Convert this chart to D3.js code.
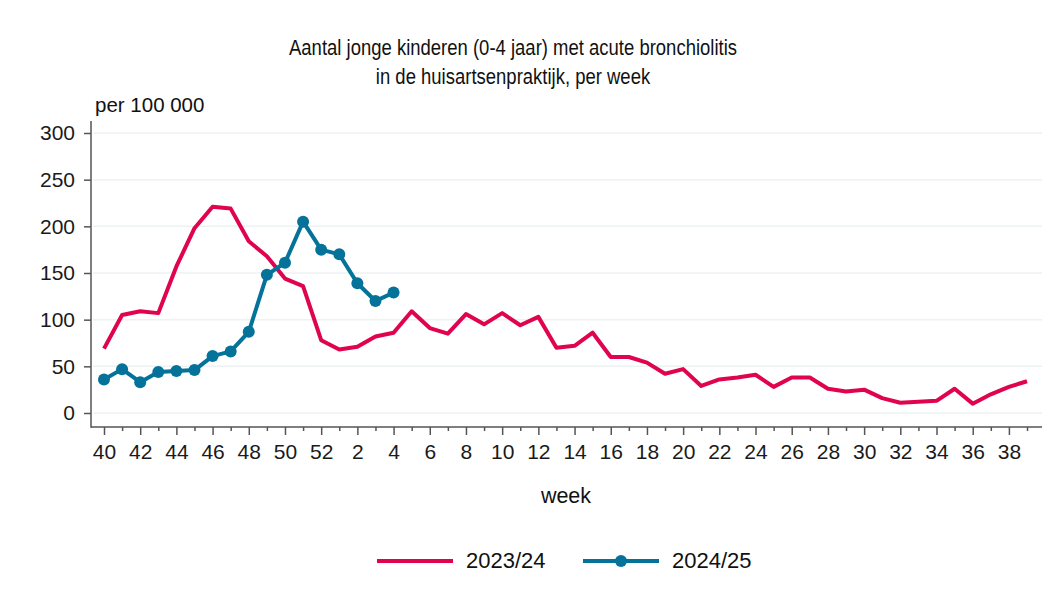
<!DOCTYPE html>
<html lang="nl">
<head>
  <meta charset="UTF-8">
  <title>Acute bronchiolitis per week</title>
  <script src="https://d3js.org/d3.v7.min.js"></script>
  <style>
    body { margin: 0; background: #fff; font-family: "Liberation Sans", Arial, sans-serif; }
    .grid line { stroke: #edf2f2; stroke-width: 1.5; }
    .tick text { fill: #1a1a1a; }
  </style>
</head>
<body>
  <script>
    // Weeks of the season, week 40 up to week 39 of the next year
    const weeks = [40, 41, 42, 43, 44, 45, 46, 47, 48, 49, 50, 51, 52,
      1, 2, 3, 4, 5, 6, 7, 8, 9, 10, 11, 12, 13, 14, 15, 16, 17, 18, 19, 20,
      21, 22, 23, 24, 25, 26, 27, 28, 29, 30, 31, 32, 33, 34, 35, 36, 37, 38, 39];

    // 2023/24 season (per 100 000)
    const season2324 = [69, 105, 109, 107, 157, 198, 221, 219, 184, 168, 144, 136, 78,
      68, 71, 82, 86, 109, 91, 85, 106, 95, 107, 94, 103, 70, 72, 86, 60, 60, 54, 42, 47,
      29, 36, 38, 41, 28, 38, 38, 26, 23, 25, 16, 11, 12, 13, 26, 10, 20, 28, 34];

    // 2024/25 season (per 100 000), so far
    const season2425 = [36, 47, 33, 44, 45, 46, 61, 66, 87, 148, 161, 205, 175, 170, 139, 120, 129];

    const yTicks = [0, 50, 100, 150, 200, 250, 300];

    const seriesNames = ["2023/24", "2024/25"];
    const colors = ["#e0034f", "#05729a"];

    const W = 1052, H = 601;
    const plotLeft = 91, plotRight = 1042, plotBottom = 427, plotTop = 121;

    const svg = d3.select("body").append("svg")
      .attr("width", W)
      .attr("height", H);

    const x = d3.scaleLinear().domain([0, weeks.length - 1]).range([104, 1027]);
    const y = d3.scaleLinear().domain([0, 300]).range([413, 133]);

    // Gridlines
    svg.append("g").attr("class", "grid")
      .selectAll("line")
      .data(yTicks)
      .join("line")
      .attr("x1", plotLeft + 2).attr("x2", plotRight)
      .attr("y1", d => y(d)).attr("y2", d => y(d));

    // Y axis
    svg.append("g")
      .attr("transform", `translate(${plotLeft},0)`)
      .call(d3.axisLeft(y).tickValues(yTicks).tickSize(7).tickPadding(9))
      .call(g => g.select(".domain").remove())
      .call(g => g.selectAll(".tick line").attr("stroke", "#555").attr("stroke-width", 1.5))
      .call(g => g.selectAll(".tick text").style("font-size", "21px").style("font-family", "Liberation Sans, Arial, sans-serif"));

    // X axis (every week a tick, labels on even weeks)
    svg.append("g")
      .attr("transform", `translate(0,${plotBottom})`)
      .call(d3.axisBottom(x)
        .tickValues(d3.range(weeks.length))
        .tickSize(7)
        .tickPadding(10)
        .tickFormat(i => weeks[i] % 2 === 0 ? weeks[i] : ""))
      .call(g => g.select(".domain").remove())
      .call(g => g.selectAll(".tick line")
        .attr("stroke", "#555").attr("stroke-width", 1.5)
        .attr("y2", i => weeks[i] % 2 === 0 ? 8 : 4))
      .call(g => g.selectAll(".tick text").style("font-size", "21px").style("font-family", "Liberation Sans, Arial, sans-serif"));

    // Axis lines
    svg.append("line")
      .attr("x1", plotLeft).attr("x2", plotLeft).attr("y1", plotTop).attr("y2", plotBottom + 0.75)
      .attr("stroke", "#555").attr("stroke-width", 1.5);
    svg.append("line")
      .attr("x1", plotLeft).attr("x2", plotRight).attr("y1", plotBottom).attr("y2", plotBottom)
      .attr("stroke", "#555").attr("stroke-width", 1.5);

    const line = d3.line()
      .x((d, i) => x(i))
      .y(d => y(d));

    // 2023/24 line
    svg.append("path")
      .datum(season2324)
      .attr("fill", "none")
      .attr("stroke", colors[0])
      .attr("stroke-width", 4)
      .attr("stroke-linejoin", "round")
      .attr("d", line);

    // 2024/25 line with markers
    svg.append("path")
      .datum(season2425)
      .attr("fill", "none")
      .attr("stroke", colors[1])
      .attr("stroke-width", 4)
      .attr("stroke-linejoin", "round")
      .attr("d", line);

    svg.append("g")
      .selectAll("circle")
      .data(season2425)
      .join("circle")
      .attr("cx", (d, i) => x(i))
      .attr("cy", d => y(d))
      .attr("r", 6)
      .attr("fill", colors[1]);

    // Title (a bit narrower than the body font, as in the original)
    const title = svg.append("text")
      .attr("transform", "translate(513,0) scale(0.86,1)")
      .attr("text-anchor", "middle")
      .style("font-size", "21.5px")
      .attr("fill", "#111");
    title.append("tspan").attr("x", 0).attr("y", 55).text("Aantal jonge kinderen (0-4 jaar) met acute bronchiolitis");
    title.append("tspan").attr("x", 0).attr("y", 84).text("in de huisartsenpraktijk, per week");

    svg.append("text")
      .attr("x", 95).attr("y", 112)
      .style("font-size", "20.5px")
      .attr("fill", "#111")
      .text("per 100 000");

    svg.append("text")
      .attr("x", 566).attr("y", 503)
      .attr("text-anchor", "middle")
      .style("font-size", "21.5px")
      .attr("fill", "#111")
      .text("week");

    // Legend
    const legend = svg.append("g");
    const legendItems = [
      { name: seriesNames[0], color: colors[0], x: 377, marker: false },
      { name: seriesNames[1], color: colors[1], x: 583, marker: true }
    ];
    legendItems.forEach(item => {
      legend.append("line")
        .attr("x1", item.x).attr("x2", item.x + 76)
        .attr("y1", 561).attr("y2", 561)
        .attr("stroke", item.color).attr("stroke-width", 4);
      if (item.marker) {
        legend.append("circle")
          .attr("cx", item.x + 38).attr("cy", 561).attr("r", 6)
          .attr("fill", item.color);
      }
      legend.append("text")
        .attr("x", item.x + 89).attr("y", 568)
        .style("font-size", "22px")
        .attr("fill", "#111")
        .text(item.name);
    });
  </script>
</body>
</html>
